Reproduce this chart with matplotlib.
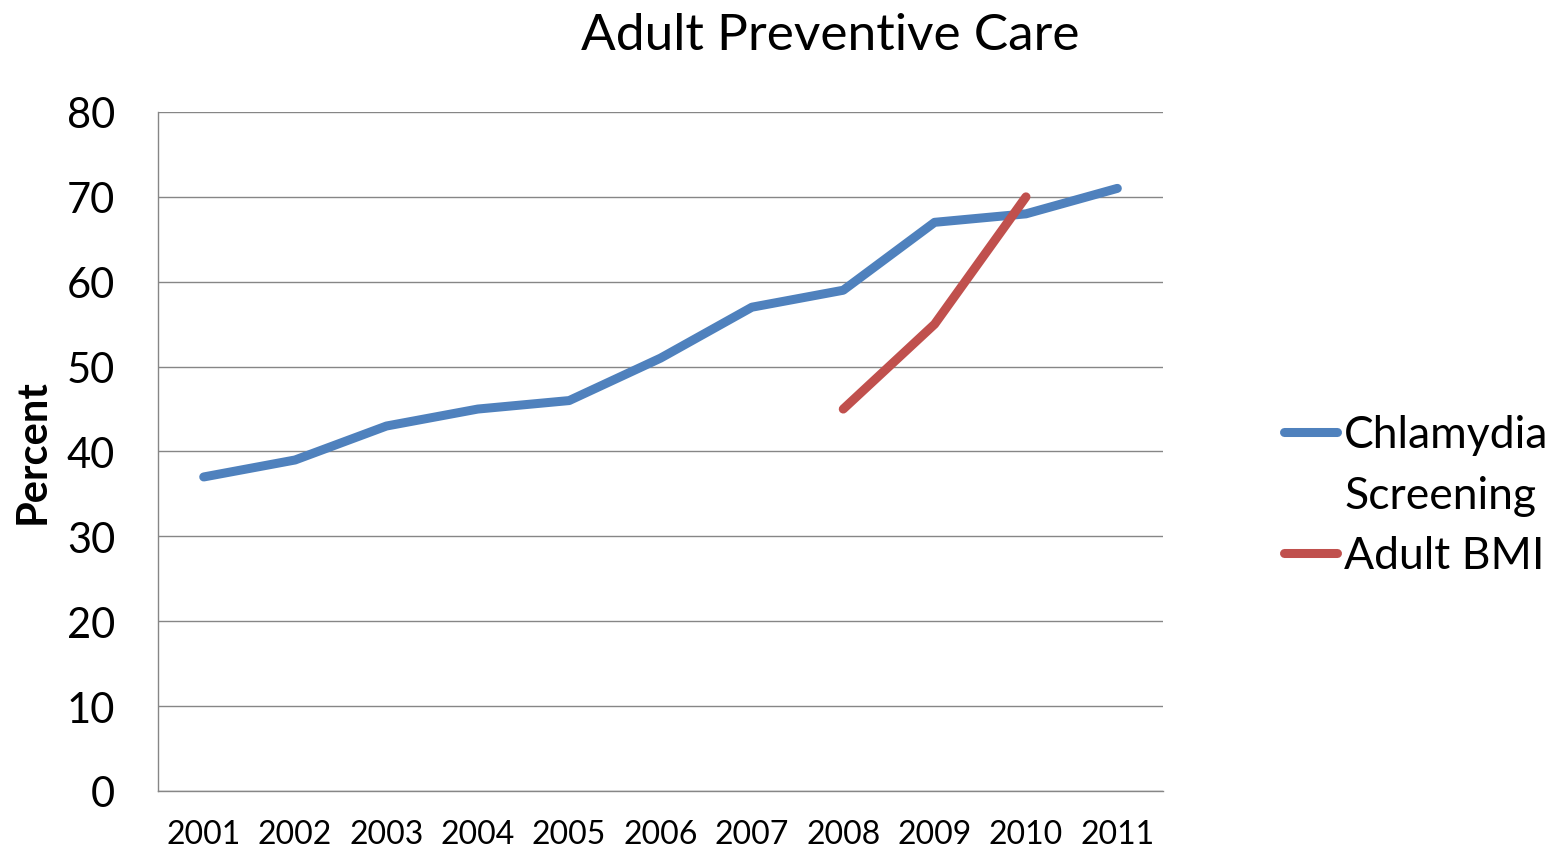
import matplotlib
matplotlib.use("Agg")
import matplotlib.pyplot as plt
from matplotlib.lines import Line2D

years = ["2001", "2002", "2003", "2004", "2005", "2006", "2007", "2008", "2009", "2010", "2011"]
chlamydia = [37, 39, 43, 45, 46, 51, 57, 59, 67, 68, 71]
bmi_years = ["2008", "2009", "2010"]
bmi = [45, 55, 70]
yticks = [0, 10, 20, 30, 40, 50, 60, 70, 80]

BLUE = '#4F81BD'
RED = '#C0504D'

plt.rcParams['font.family'] = ['Lato', 'DejaVu Sans']

fig = plt.figure(figsize=(15.54, 8.54), dpi=100)
ax = fig.add_axes([0.1017, 0.0726, 0.6467, 0.7951])

x = list(range(len(years)))
xb = [years.index(y) for y in bmi_years]
ax.plot(x, chlamydia, color=BLUE, lw=6.5, solid_capstyle='round')
ax.plot(xb, bmi, color=RED, lw=6.5, solid_capstyle='round')

ax.set_xlim(-0.5, len(years) - 0.5)
ax.set_ylim(0, 80)
ax.set_yticks(yticks)
ax.set_yticklabels([str(v) for v in yticks], fontsize=30)
ax.set_xticks(x)
ax.set_xticklabels(years, fontsize=23)
ax.tick_params(axis='y', length=0, pad=31)
ax.tick_params(axis='x', length=0, pad=20)
ax.yaxis.grid(True, color='#868686', lw=1)
ax.set_axisbelow(True)
for s in ['top', 'right']:
    ax.spines[s].set_visible(False)
for s in ['left', 'bottom']:
    ax.spines[s].set_color('#868686')
    ax.spines[s].set_linewidth(1)

ax.set_ylabel('Percent', fontsize=30, fontweight='bold')
ax.yaxis.set_label_coords(-0.106, 0.5007)
fig.text(0.534, 0.958, 'Adult Preventive Care', fontsize=37, ha='center', va='center')

handles = [Line2D([], [], color=BLUE, lw=6.5, solid_capstyle='round'),
           Line2D([], [], color='none', lw=0),
           Line2D([], [], color=RED, lw=6.5, solid_capstyle='round')]
labels = ['Chlamydia', 'Screening', 'Adult BMI']
leg = fig.legend(handles, labels, loc='center left', bbox_to_anchor=(0.826, 0.419),
                 frameon=False, fontsize=32, handlelength=1.2, handletextpad=0.16,
                 labelspacing=0.44, borderaxespad=0, borderpad=0)

fig.savefig('out.png', dpi=100)
